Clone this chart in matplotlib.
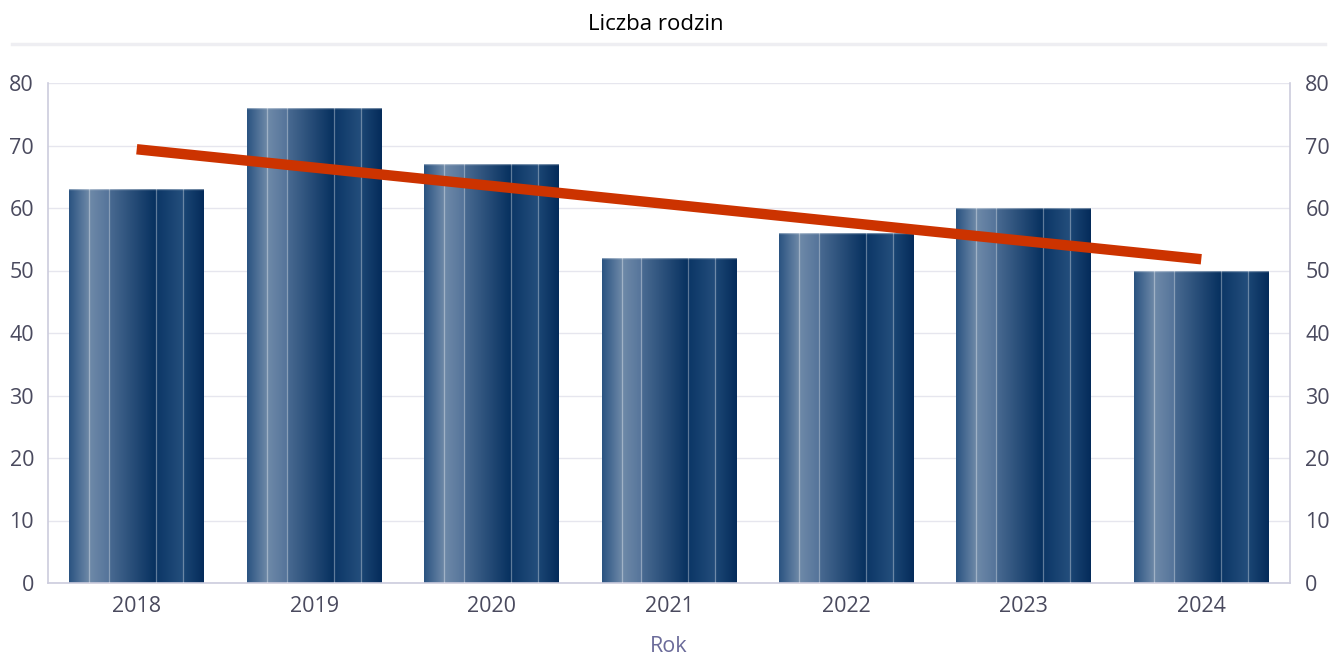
import matplotlib
matplotlib.use("Agg")
import matplotlib.pyplot as plt
import numpy as np
from matplotlib.colors import LinearSegmentedColormap
from matplotlib.lines import Line2D

years = ["2018", "2019", "2020", "2021", "2022", "2023", "2024"]
families = [63, 76, 67, 52, 56, 60, 50]
trend_years = ["2018", "2024"]
trend_values = [69.4, 51.8]
yticks = [0, 10, 20, 30, 40, 50, 60, 70, 80]

fig = plt.figure(figsize=(13.29, 6.58), dpi=100)
ax = fig.add_axes([48/1329, 75/658, (1290-48)/1329, 500/658])

x = np.arange(len(years))
bars = ax.bar(x, families, width=0.76, color="none", edgecolor="none", zorder=2)

# gradient with hard segments
stops = [
    (0.0, "#2a5381"), (0.148, "#6e89a8"),
    (0.1481, "#6f8aa9"), (0.296, "#55749a"),
    (0.2961, "#4a6b92"), (0.644, "#06305f"),
    (0.6441, "#0b3666"), (0.844, "#244e7c"),
    (0.8441, "#1c4775"), (1.0, "#042b5a"),
]
cmap = LinearSegmentedColormap.from_list("bar", stops, N=512)
grad = np.linspace(0, 1, 512).reshape(1, -1)
sep_fracs = [0.148, 0.296, 0.644, 0.844]
for b in bars:
    x0, w, h = b.get_x(), b.get_width(), b.get_height()
    im = ax.imshow(grad, cmap=cmap, aspect="auto", extent=(x0, x0 + w, 0, h),
                   zorder=2, interpolation="bilinear")
    im.set_clip_path(b)
    for f in sep_fracs:
        ax.plot([x0 + f * w] * 2, [0, h], color="white", alpha=0.35, lw=0.9, zorder=3)
    ax.plot([x0, x0 + w], [h, h], color="white", alpha=0.4, lw=1.0, zorder=3)

tx = [years.index(t) for t in trend_years]
ax.plot(tx, trend_values, color="#cc3300", lw=7.5, solid_capstyle="butt", zorder=4)

ax.set_xlim(-0.5, len(years) - 0.5)
ax.set_ylim(0, 80)
ax.set_yticks(yticks)
ax.set_xticks(x)
ax.set_xticklabels(years)
ax.grid(axis="y", color="#e6e6ee", lw=1.0, zorder=0)
ax.set_axisbelow(True)
ax.spines["top"].set_visible(False)
for s in ["left", "right", "bottom"]:
    ax.spines[s].set_color("#ccccdd")
    ax.spines[s].set_linewidth(1.2)
ax.tick_params(axis="both", length=0, labelsize=15.5, labelcolor="#4a4a5e")
ax.tick_params(axis="y", pad=10)
ax.tick_params(axis="x", pad=9)
for lab in ax.get_xticklabels() + ax.get_yticklabels():
    lab.set_fontfamily("Open Sans")

ax2 = ax.twinx()
ax2.set_ylim(0, 80)
ax2.set_yticks(yticks)
ax2.tick_params(axis="y", length=0, labelsize=15.5, labelcolor="#4a4a5e", pad=11)
for s in ax2.spines.values():
    s.set_visible(False)
for lab in ax2.get_yticklabels():
    lab.set_fontfamily("Open Sans")

ax.set_xlabel("Rok", fontsize=15.5, color="#6b6b9a", family="Open Sans", labelpad=14)

fig.text(656/1329, 1 - 25/658, "Liczba rodzin", ha="center", va="center",
         fontsize=16, family="Open Sans", color="black")
fig.add_artist(Line2D([12/1329, 1325/1329], [1 - 44/658, 1 - 44/658],
                      color="#eeeef2", lw=2.5, transform=fig.transFigure))

fig.savefig("out.png", dpi=100)
